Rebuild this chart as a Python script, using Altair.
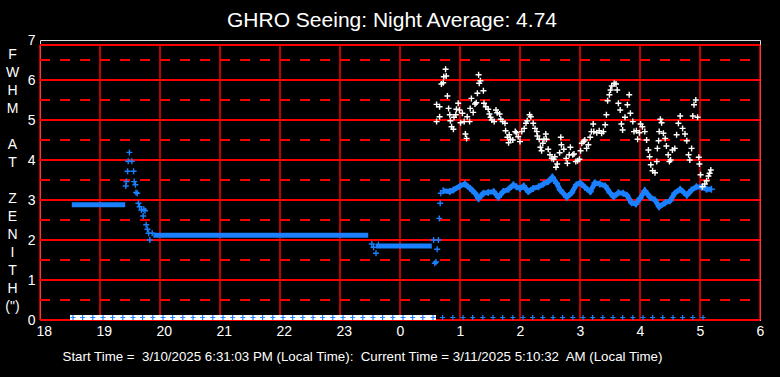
import altair as alt
import pandas as pd

FONT = "Liberation Sans"
RED = "#ff0000"
BLUE = "#1a80ff"
PLUS = "M-1,0L1,0M0,-1L0,1"

# ---- axis / grid values ----
x_ticks = [18, 19, 20, 21, 22, 23, 24, 25, 26, 27, 28, 29, 30]
y_ticks = [0, 1, 2, 3, 4, 5, 6, 7]
solid_y = [0, 1, 2, 3, 4, 5, 6, 6.875]
dashed_y = [0.5, 1.5, 2.5, 3.5, 4.5, 5.5, 6.5]
x_min, x_max, y_top = 18, 30, 6.875

# ---- blue (dense flat runs) ----
run_start = [18.53, 19.89, 23.60]
run_end = [19.42, 23.47, 24.53]
run_value = [2.88, 2.12, 1.85]

# ---- blue scattered points ----
blue_pt_t = [19.49, 19.47, 19.53, 19.46, 19.56, 19.44, 19.43, 19.57, 19.59, 19.60, 19.62,
             19.64, 19.66, 19.69, 19.73, 19.75, 19.72, 19.77, 19.79, 19.81, 19.83, 19.87,
             23.53, 23.56, 23.60, 23.64,
             24.56, 24.64, 24.62, 24.58, 24.60, 24.655, 24.67, 24.68]
blue_pt_v = [4.19, 3.97, 3.97, 3.72, 3.72, 3.46, 3.35, 3.46, 3.38, 3.19, 3.17,
             2.92, 2.83, 2.75, 2.77, 2.73, 2.60, 2.38, 2.27, 2.17, 2.00, 2.17,
             1.90, 1.82, 1.67, 1.88,
             2.00, 2.00, 1.77, 1.42, 1.45, 2.54, 2.92, 3.17]

# ---- blue continuous series ----
blue_t = [24.72, 24.83, 24.89, 25.00, 25.08, 25.17, 25.25, 25.31, 25.39, 25.47, 25.56, 25.64,
          25.72, 25.81, 25.89, 25.94, 26.00, 26.06, 26.14, 26.22, 26.31, 26.39, 26.47, 26.54,
          26.61, 26.67, 26.78, 26.86, 26.94, 27.00, 27.08, 27.17, 27.25, 27.33, 27.42, 27.50,
          27.56, 27.64, 27.72, 27.78, 27.86, 27.93, 28.00, 28.08, 28.17, 28.25, 28.32, 28.42,
          28.50, 28.58, 28.67, 28.78, 28.86, 28.94, 29.03, 29.11, 29.19]
blue_v = [3.23, 3.21, 3.25, 3.35, 3.40, 3.29, 3.17, 3.04, 3.17, 3.19, 3.21, 3.07,
          3.21, 3.27, 3.38, 3.33, 3.29, 3.35, 3.21, 3.29, 3.33, 3.40, 3.46, 3.57,
          3.42, 3.25, 3.07, 3.18, 3.38, 3.43, 3.32, 3.21, 3.43, 3.40, 3.35, 3.18,
          3.08, 3.18, 3.17, 3.12, 2.93, 2.90, 3.04, 3.23, 3.07, 3.00, 2.83, 2.93,
          2.98, 3.17, 3.27, 3.12, 3.25, 3.33, 3.32, 3.27, 3.27]

# ---- white series ----
white_t = [24.61, 24.61, 24.66, 24.66, 24.69, 24.72, 24.73, 24.77, 24.76, 24.79, 24.81, 24.83,
           24.84, 24.86, 24.89, 24.90, 24.93, 24.94, 24.97, 24.99, 25.01, 25.04, 25.07, 25.09,
           25.11, 25.12, 25.16, 25.17, 25.19, 25.22, 25.25, 25.27, 25.29, 25.31, 25.32, 25.34,
           25.39, 25.40, 25.43, 25.47, 25.49, 25.51, 25.53, 25.57, 25.60, 25.62, 25.66, 25.68,
           25.71, 25.75, 25.76, 25.79, 25.81, 25.82, 25.84, 25.88, 25.92, 25.94, 25.97, 26.00,
           26.03, 26.07, 26.10, 26.12, 26.16, 26.18, 26.22, 26.25, 26.28, 26.29, 26.32, 26.34,
           26.36, 26.38, 26.40, 26.43, 26.44, 26.47, 26.50, 26.53, 26.56, 26.58, 26.60, 26.62,
           26.66, 26.68, 26.69, 26.73, 26.77, 26.79, 26.82, 26.84, 26.88, 26.90, 26.93, 26.96,
           26.99, 27.01, 27.03, 27.06, 27.08, 27.11, 27.14, 27.17, 27.19, 27.22, 27.23, 27.28,
           27.32, 27.36, 27.39, 27.42, 27.44, 27.46, 27.49, 27.51, 27.53, 27.57, 27.60, 27.62,
           27.64, 27.67, 27.69, 27.71, 27.75, 27.79, 27.82, 27.84, 27.88, 27.90, 27.94, 27.96,
           27.99, 28.01, 28.04, 28.08, 28.11, 28.14, 28.16, 28.18, 28.21, 28.25, 28.28, 28.29,
           28.31, 28.32, 28.34, 28.36, 28.39, 28.42, 28.44, 28.47, 28.49, 28.51, 28.54, 28.58,
           28.61, 28.64, 28.67, 28.71, 28.75, 28.78, 28.81, 28.83, 28.86, 28.88, 28.90, 28.93,
           28.96, 28.98, 28.99, 29.01, 29.04, 29.08, 29.11, 29.14, 29.16, 29.18]
white_v = [4.96, 5.39, 5.33, 5.08, 5.90, 5.93, 6.08, 6.10, 6.27, 5.60, 5.29, 5.13,
           4.98, 4.83, 4.77, 5.07, 5.13, 5.27, 5.42, 5.25, 4.93, 5.17, 4.96, 4.65,
           4.54, 5.08, 4.96, 5.29, 5.54, 5.19, 5.40, 5.43, 5.67, 6.13, 5.92, 5.98,
           5.73, 5.42, 5.33, 5.27, 5.15, 5.07, 5.00, 4.96, 5.25, 5.18, 5.15, 5.02,
           4.96, 4.92, 4.73, 4.57, 4.43, 4.63, 4.52, 4.50, 4.71, 4.68, 4.58, 4.46,
           4.71, 4.79, 4.92, 4.98, 5.13, 5.08, 4.92, 4.79, 4.71, 4.60, 4.52, 4.32,
           4.23, 4.42, 4.52, 4.65, 4.52, 4.27, 4.13, 4.04, 4.02, 4.08, 3.82, 3.90,
           4.18, 4.57, 4.38, 4.27, 4.04, 3.92, 4.13, 4.32, 4.13, 4.15, 3.96, 3.98,
           4.02, 4.23, 4.42, 4.46, 4.50, 4.29, 4.38, 4.57, 4.71, 4.90, 4.71, 4.68,
           4.73, 4.67, 4.71, 4.88, 5.13, 5.48, 5.63, 5.75, 5.85, 5.92, 5.90, 5.75,
           5.42, 5.25, 4.90, 4.75, 5.07, 5.38, 5.63, 5.17, 4.96, 4.71, 4.73, 4.52,
           4.68, 4.90, 4.83, 4.71, 4.50, 4.25, 4.08, 3.88, 3.73, 3.68, 3.96, 4.29,
           4.48, 4.71, 5.02, 4.93, 4.67, 4.54, 4.35, 4.13, 3.96, 4.00, 4.25, 4.29,
           4.63, 4.92, 5.10, 4.79, 4.65, 4.48, 4.13, 4.00, 4.29, 5.10, 5.38, 5.50,
           5.07, 4.07, 3.90, 3.63, 3.33, 3.40, 3.48, 3.60, 3.67, 3.75]

# ---- zero-level records ----
white_zero_start = [18.50]
white_zero_end = [24.60]
blue_zero_t = [18.55, 18.71, 18.88, 19.05, 19.21, 19.38, 19.55, 19.71, 19.88, 20.05, 20.21,
               20.38, 20.55, 20.71, 20.88, 21.05, 21.21, 21.38, 21.55, 21.71, 21.88, 22.05,
               22.21, 22.38, 22.55, 22.71, 22.88, 23.05, 23.21, 23.38, 23.55, 23.71, 23.88,
               24.05, 24.21, 24.38, 24.55, 24.71, 24.88, 25.05, 25.21, 25.38, 25.55, 25.71,
               25.88, 26.05, 26.21, 26.38, 26.55, 26.71, 26.88, 27.05, 27.21, 27.38, 27.55,
               27.71, 27.88, 28.05, 28.21, 28.38, 28.55, 28.71, 28.88, 29.05]

TITLE = "GHRO Seeing: Night Average: 4.74"
BOTTOM = ("Start Time =\u00a0 3/10/2025 6:31:03 PM (Local Time):\u00a0 Current Time = "
          "3/11/2025 5:10:32\u00a0 AM (Local Time)")
NB = "\u2800"
Y_LETTERS = ["F", "W", "H", "M", NB, "A", "T", NB, "Z", "E", "N", "I", "T", "H", "(\")"]

xscale = alt.Scale(domain=[x_min, x_max], nice=False, zero=False)
yscale = alt.Scale(domain=[0, 7], nice=False, zero=True)

xaxis = alt.Axis(values=x_ticks, labelExpr="'' + (datum.value % 24)", grid=False,
                 domain=False, ticks=False, labelColor="white", labelFontSize=14,
                 labelFont=FONT, labelAlign="left", labelOffset=-4, labelPadding=4,
                 labelFlush=False, title=BOTTOM, titleColor="white", titleFont=FONT,
                 titleFontSize=13.3, titleFontWeight="normal", titleX=322, titleY=40,
                 titleAlign="center", titleBaseline="alphabetic")
yaxis = alt.Axis(values=y_ticks, grid=False, domain=False, ticks=False, labelColor="white",
                 labelFontSize=14, labelFont=FONT, labelPadding=5, labelFlush=False,
                 title=Y_LETTERS, titleColor="white", titleFont=FONT, titleFontSize=14,
                 titleFontWeight="normal", titleAngle=0, titleAlign="center",
                 titleBaseline="top", titleX=-28, titleY=7, titleLineHeight=18)


def X(f):
    return alt.X(f, type="quantitative", scale=xscale, axis=xaxis)


def Y(f):
    return alt.Y(f, type="quantitative", scale=yscale, axis=yaxis)


hsolid = pd.DataFrame({"v": solid_y, "x0": x_min, "x1": x_max})
hdash = pd.DataFrame({"v": dashed_y, "x0": x_min, "x1": x_max})
vgrid = pd.DataFrame({"t": x_ticks, "y0": 0, "y1": y_top})
runs = pd.DataFrame({"t0": run_start, "t1": run_end, "v": run_value})
bpts = pd.DataFrame({"t": blue_pt_t, "v": blue_pt_v})
bline = pd.DataFrame({"t": blue_t, "v": blue_v})
wpts = pd.DataFrame({"t": white_t, "v": white_v})
wzero = pd.DataFrame({"t0": white_zero_start, "t1": white_zero_end, "v": 0})
bzero = pd.DataFrame({"t": blue_zero_t, "v": 0})

l_hsolid = alt.Chart(hsolid).mark_rule(color=RED, strokeWidth=2).encode(
    x=X("x0"), x2="x1", y=Y("v"))
l_hdash = alt.Chart(hdash).mark_rule(color=RED, strokeWidth=2, strokeDash=[10, 10]).encode(
    x=X("x0"), x2="x1", y=Y("v"))
l_vgrid = alt.Chart(vgrid).mark_rule(color=RED, strokeWidth=1.5).encode(
    x=X("t"), y=Y("y0"), y2="y1")
l_wzero = alt.Chart(wzero).mark_rule(color="white", strokeWidth=5, yOffset=-2.5).encode(
    x=X("t0"), x2="t1", y=Y("v"))
l_runs = alt.Chart(runs).mark_rule(color=BLUE, strokeWidth=5).encode(
    x=X("t0"), x2="t1", y=Y("v"))
l_bpts = alt.Chart(bpts).mark_point(shape=PLUS, size=36, color=BLUE, filled=False,
                                     strokeWidth=1.4, opacity=1).encode(x=X("t"), y=Y("v"))
l_bline = alt.Chart(bline).mark_line(color=BLUE, strokeWidth=5).encode(x=X("t"), y=Y("v"))
l_blinep = alt.Chart(bline).mark_point(shape=PLUS, size=49, color=BLUE, filled=False,
                                        strokeWidth=1.6, opacity=1).encode(x=X("t"), y=Y("v"))
l_wpts = alt.Chart(wpts).mark_point(shape=PLUS, size=36, color="white", filled=False,
                                     strokeWidth=1.4, opacity=1).encode(x=X("t"), y=Y("v"))
l_bzero = alt.Chart(bzero).mark_point(shape=PLUS, size=25, color=BLUE, filled=False,
                                       strokeWidth=1.2, opacity=1, yOffset=-2.5).encode(
    x=X("t"), y=Y("v"))

chart = alt.layer(
    l_hdash, l_hsolid, l_vgrid, l_wzero, l_runs, l_bline, l_blinep, l_bpts, l_wpts, l_bzero
).properties(
    width=720, height=280,
    padding={"left": 40, "top": 40, "right": 20, "bottom": 57},
    autosize=alt.AutoSizeParams(type="none"),
    title=alt.TitleParams(TITLE, color="white", font=FONT, fontSize=21, fontWeight="normal",
                          anchor="middle", dx=-8, dy=19, baseline="alphabetic", offset=4),
    background="black",
).configure_view(stroke=None).configure(font=FONT)

chart.save("out.html", embed_options={"renderer": "svg", "actions": False})
